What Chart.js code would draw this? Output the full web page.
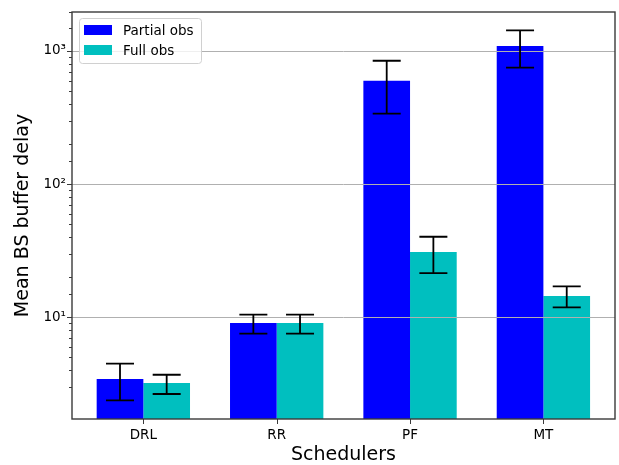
<!DOCTYPE html>
<html><head><meta charset="utf-8">
<script src="https://cdn.jsdelivr.net/npm/chart.js@4/dist/chart.umd.min.js"></script>
<style>html,body{margin:0;padding:0;background:#fff}#wrap{width:619px;height:465px;position:relative}</style>
</head><body><div id="wrap"><canvas id="c"></canvas></div>
<script>
const categories = ['DRL', 'RR', 'PF', 'MT'];
const seriesNames = ['Partial obs', 'Full obs'];
const partialObs = [3.44, 9.06, 598, 1090];
const partialLow = [2.38, 7.54, 339, 750];
const partialHigh = [4.49, 10.5, 845, 1429];
const fullObs = [3.21, 9.06, 30.9, 14.45];
const fullLow = [2.66, 7.54, 21.5, 11.9];
const fullHigh = [3.71, 10.5, 40.3, 17.1];
const majorTicks = [10, 100, 1000];
const majorTickLabels = ['10¹', '10²', '10³'];
const xTitle = 'Schedulers';
const yTitle = 'Mean BS buffer delay';

const colors = ['#0000ff', '#00bfbf'];
const errLow = [partialLow, fullLow];
const errHigh = [partialHigh, fullHigh];
const FONT = "'DejaVu Sans', sans-serif";

const overlay = {
  id: 'overlay',
  afterDraw(chart) {
    const ctx = chart.ctx, a = chart.chartArea;
    const xs = chart.scales.x, ys = chart.scales.y;
    ctx.save();
    // gridlines on top of bars
    ctx.strokeStyle = '#b0b0b0'; ctx.lineWidth = 1;
    majorTicks.forEach(v => {
      const y = Math.round(ys.getPixelForValue(v)) + 0.5;
      ctx.beginPath(); ctx.moveTo(a.left, y); ctx.lineTo(a.right, y); ctx.stroke();
    });
    // error bars
    ctx.strokeStyle = '#000'; ctx.lineWidth = 1.8;
    chart.data.datasets.forEach((ds, di) => {
      const meta = chart.getDatasetMeta(di);
      meta.data.forEach((el, i) => {
        const x = el.x;
        const yh = ys.getPixelForValue(errHigh[di][i]);
        const yl = ys.getPixelForValue(errLow[di][i]);
        ctx.beginPath();
        ctx.moveTo(x, yh); ctx.lineTo(x, yl);
        ctx.moveTo(x - 14, yh); ctx.lineTo(x + 14, yh);
        ctx.moveTo(x - 14, yl); ctx.lineTo(x + 14, yl);
        ctx.stroke();
      });
    });
    // frame
    ctx.strokeStyle = '#3a3a3a'; ctx.lineWidth = 1.4;
    ctx.strokeRect(a.left, a.top, a.right - a.left, a.bottom - a.top);
    // tick marks
    ctx.lineWidth = 1;
    ys.ticks.forEach(t => {
      const y = Math.round(ys.getPixelForValue(t.value)) + 0.5;
      if (y < a.top || y > a.bottom) return;
      const len = majorTicks.includes(t.value) ? 5 : 3;
      ctx.beginPath(); ctx.moveTo(a.left, y); ctx.lineTo(a.left - len, y); ctx.stroke();
    });
    xs.ticks.forEach(t => {
      const x = Math.round(xs.getPixelForValue(t.value)) + 0.5;
      ctx.beginPath(); ctx.moveTo(x, a.bottom); ctx.lineTo(x, a.bottom + 5); ctx.stroke();
    });
    // legend
    const lx = a.left + 7, ly = a.top + 6, lw = 122, lh = 45;
    ctx.fillStyle = 'rgba(255,255,255,0.8)';
    ctx.strokeStyle = '#d0d0d0'; ctx.lineWidth = 1;
    ctx.beginPath();
    ctx.roundRect(lx + 0.5, ly + 0.5, lw, lh, 3);
    ctx.fill(); ctx.stroke();
    ctx.font = '13.5px ' + FONT;
    ctx.textBaseline = 'middle'; ctx.textAlign = 'left';
    seriesNames.forEach((n, i) => {
      const cy = ly + 12 + i * 20;
      ctx.fillStyle = colors[i];
      ctx.fillRect(lx + 5, cy - 5, 28, 10);
      ctx.fillStyle = '#000';
      ctx.fillText(n, lx + 44, cy + 1);
    });
    ctx.restore();
  }
};

new Chart(document.getElementById('c'), {
  type: 'bar',
  data: {
    datasets: [
      { label: seriesNames[0], data: partialObs.map((v, i) => ({ x: i, y: v })), backgroundColor: colors[0], borderWidth: 0 },
      { label: seriesNames[1], data: fullObs.map((v, i) => ({ x: i, y: v })), backgroundColor: colors[1], borderWidth: 0 }
    ]
  },
  options: {
    responsive: true, maintainAspectRatio: false, animation: false,
    devicePixelRatio: 1,
    layout: { padding: { left: 0, right: 4, top: 12, bottom: 0 } },
    datasets: { bar: { categoryPercentage: 0.7, barPercentage: 1.0 } },
    plugins: { legend: { display: false }, tooltip: { enabled: false } },
    scales: {
      x: {
        type: 'linear', min: -0.535, max: 3.537, offset: false,
        afterBuildTicks: s => { s.ticks = categories.map((c, i) => ({ value: i })); },
        afterFit: s => { s.height = 46; s.paddingLeft = 0; s.paddingRight = 0; },
        grid: { display: false, drawTicks: false, offset: false },
        border: { display: false },
        ticks: { padding: 8, color: '#000', font: { family: FONT, size: 13.5 }, callback: v => categories[v] ?? '' , maxRotation: 0, autoSkip: false},
        title: { display: true, text: xTitle, color: '#000', font: { family: FONT, size: 19 }, padding: { top: 0, bottom: -1 } }
      },
      y: {
        type: 'logarithmic', min: 1.726, max: 1962,
        afterFit: s => { s.width = 72; s.paddingTop = 0; s.paddingBottom = 0; },
        grid: { display: false, drawTicks: false },
        border: { display: false },
        ticks: {
          padding: 6, color: '#000', autoSkip: false, font: { family: FONT, size: 13.5 },
          callback: v => { const k = majorTicks.indexOf(v); return k >= 0 ? majorTickLabels[k] : ''; }
        },
        title: { display: true, text: yTitle, color: '#000', font: { family: FONT, size: 19 }, padding: { top: 12, bottom: 0 } }
      }
    }
  },
  plugins: [overlay]
});
</script></body></html>
